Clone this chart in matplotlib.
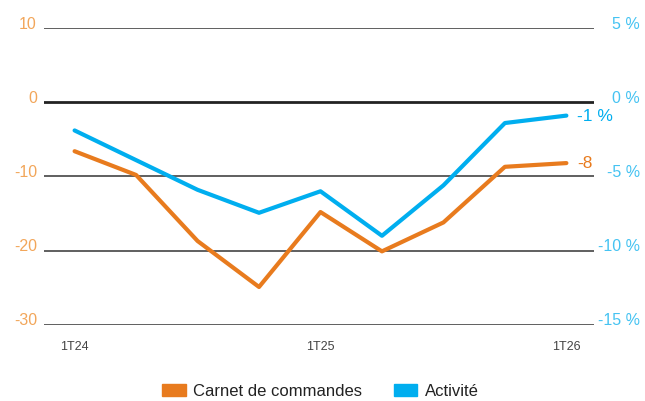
import matplotlib.pyplot as plt
import matplotlib.transforms as mtransforms
from matplotlib.patches import Patch

plt.rcParams['font.family'] = ['Liberation Sans', 'DejaVu Sans']

# data (quarters 1T24 .. 1T26)
quarters = ['1T24', '2T24', '3T24', '4T24', '1T25', '2T25', '3T25', '4T25', '1T26']
carnet = [-6.6, -9.8, -18.7, -24.9, -14.8, -20.1, -16.2, -8.7, -8.2]
activite = [-1.9, -3.9, -5.9, -7.45, -6.0, -9.0, -5.6, -1.4, -0.9]
shown_ticks = ['1T24', '1T25', '1T26']
left_ticks = [10, 0, -10, -20, -30]
right_ticks = [5, 0, -5, -10, -15]

ORANGE = '#E87B1E'
ORANGE_LIGHT = '#F2A65A'
BLUE = '#00AEEF'
BLUE_LIGHT = '#45C3F2'

fig = plt.figure(figsize=(6.45, 4.01), dpi=100)
ax = fig.add_axes([0.068, 0.190, 0.853, 0.740])
ax2 = ax.twinx()

x = list(range(len(quarters)))
ax.plot(x, carnet, color=ORANGE, lw=3, solid_capstyle='round', zorder=3)
ax2.plot(x, activite, color=BLUE, lw=3, solid_capstyle='round', zorder=3)

ax.set_ylim(-30, 10)
ax2.set_ylim(-15, 5)
ax.set_xlim(-0.5, 8.45)

# gridlines
for v in left_ticks:
    if v == 0:
        ax.axhline(v, color='#222222', lw=2, zorder=2)
    else:
        ax.axhline(v, color='#444444', lw=1.2, zorder=1)

for s in ax.spines.values():
    s.set_visible(False)
for s in ax2.spines.values():
    s.set_visible(False)

ax.set_yticks(left_ticks)
ax.set_yticklabels([str(v) for v in left_ticks])
ax.tick_params(axis='y', length=0, pad=5, labelsize=11.5, labelcolor=ORANGE_LIGHT)
ax2.set_yticks(right_ticks)
ax2.set_yticklabels(['%d %%' % v for v in right_ticks])
ax2.tick_params(axis='y', length=0, pad=33, labelsize=11.5, labelcolor=BLUE_LIGHT)
for lab in ax2.get_yticklabels():
    lab.set_horizontalalignment('right')

up = mtransforms.ScaledTranslation(0, 4 / 72, fig.dpi_scale_trans)
for lab in ax.get_yticklabels() + ax2.get_yticklabels():
    lab.set_transform(lab.get_transform() + up)

ax.set_xticks([quarters.index(q) for q in shown_ticks])
ax.set_xticklabels(shown_ticks)
ax.tick_params(axis='x', length=0, pad=12, labelsize=9, labelcolor='#444444')

# end labels
ax.annotate('%d' % round(carnet[-1]), (x[-1], carnet[-1]), xytext=(8, 0),
            textcoords='offset points', va='center', ha='left',
            color=ORANGE, fontsize=12.5)
ax2.annotate('%d %%' % round(activite[-1]), (x[-1], activite[-1]), xytext=(8, -1),
             textcoords='offset points', va='center', ha='left',
             color=BLUE, fontsize=12.5)

handles = [Patch(color=ORANGE, label='Carnet de commandes'),
           Patch(color=BLUE, label='Activité')]
fig.legend(handles=handles, loc='lower center', ncol=2, frameon=False,
           bbox_to_anchor=(0.497, -0.032), fontsize=12,
           handlelength=1.4, handleheight=0.66, handletextpad=0.45,
           columnspacing=1.9, labelcolor='#222222')

fig.savefig('out.png', dpi=100)
